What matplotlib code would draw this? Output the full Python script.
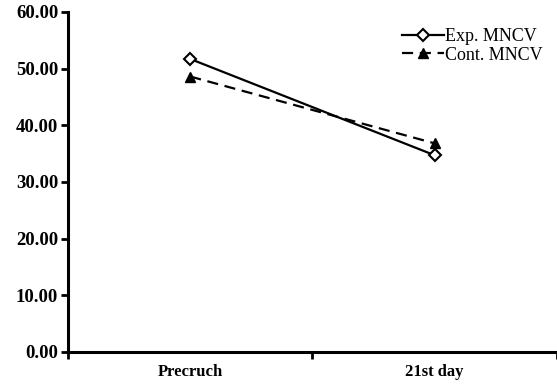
import numpy as np
import matplotlib.pyplot as plt
from matplotlib.ticker import FormatStrFormatter

# data
kategori = ["Precruch", "21st day"]
exp_mncv = [51.7, 34.7]
cont_mncv = [48.6, 36.8]
y_ticks = [0, 10, 20, 30, 40, 50, 60]

plt.rcParams['font.family'] = ['Liberation Serif', 'DejaVu Serif']

fig = plt.figure(figsize=(5.57, 3.85), dpi=100)
ax = fig.add_axes([0.122, 0.086, 0.878, 0.883])

x = np.arange(len(kategori))
ax.plot(x, exp_mncv, color='black', lw=1.6, marker='D', ms=6,
        mfc='white', mec='black', mew=1.5, label='Exp. MNCV')
ax.plot(x, cont_mncv, color='black', lw=1.6, ls=(0, (5, 3)), marker='^', ms=7,
        mfc='black', mec='black', label='Cont. MNCV')

ax.set_xlim(-0.5, 1.5)
ax.set_ylim(0, 60)
ax.set_yticks(y_ticks)
ax.yaxis.set_major_formatter(FormatStrFormatter('%.2f'))
ax.set_xticks(x)
ax.set_xticklabels(kategori, fontweight='bold', fontsize=12)
ax.tick_params(axis='x', which='major', length=0, pad=9)
ax.set_xticks([-0.5, 0.5, 1.5], minor=True)
ax.tick_params(axis='x', which='minor', length=5, width=2, direction='out')
ax.tick_params(axis='y', length=5, width=2, direction='out', labelsize=13.5, pad=2)
for lbl in ax.get_yticklabels():
    lbl.set_fontweight('bold')

for s in ['top', 'right']:
    ax.spines[s].set_visible(False)
for s in ['left', 'bottom']:
    ax.spines[s].set_linewidth(2.2)

ax.legend(loc='upper left', bbox_to_anchor=(0.683, 0.953), frameon=False,
          fontsize=13, handlelength=2.3, handletextpad=0.1, labelspacing=0.1,
          borderaxespad=0, borderpad=0)

fig.savefig("out.png", dpi=100)
